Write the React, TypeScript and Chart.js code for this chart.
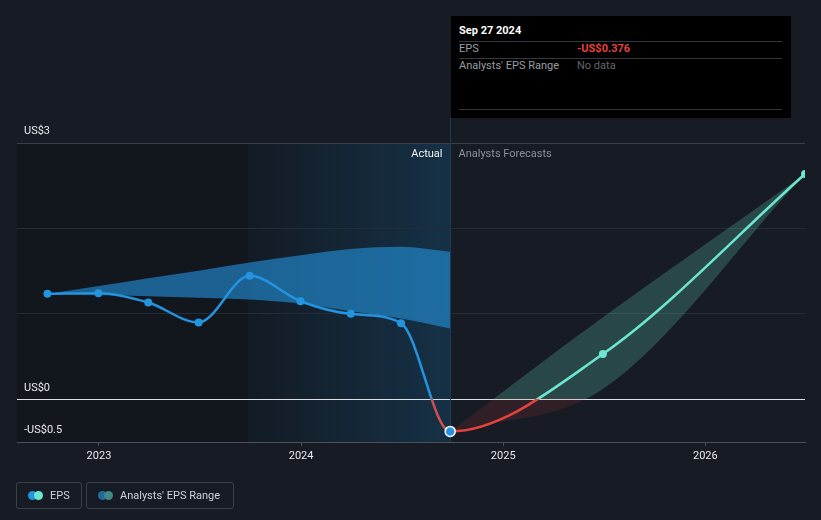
import React, { useEffect, useRef } from 'react';
import { Chart, registerables } from 'chart.js';

Chart.register(...registerables);

// ---------- data ----------
const pastDates = ['2022-09-30', '2022-12-31', '2023-03-31', '2023-06-30', '2023-09-30', '2023-12-31', '2024-03-31', '2024-06-30', '2024-09-27'];
const pastEps = [1.234, 1.242, 1.133, 0.899, 1.445, 1.148, 1.0, 0.891, -0.376];
const pastRangeHigh = [1.234, 1.325, 1.418, 1.506, 1.6, 1.687, 1.76, 1.785, 1.726];
const pastRangeLow = [1.234, 1.222, 1.207, 1.19, 1.168, 1.121, 1.03, 0.946, 0.828];
const forecastDates = ['2025-06-30', '2026-06-30'];
const forecastEps = [0.53, 2.637];
const forecastRangeHigh = [0.96, 2.637];
const forecastRangeLow = [0.12, 2.637];
const xTickYears = [2023, 2024, 2025, 2026];
const yTickValues = [-0.5, 0, 1, 2, 3];
const yTickLabels = ['-US$0.5', 'US$0', '', '', 'US$3'];
const axisStartDate = '2022-08-06';
const axisEndDate = '2026-06-30';
const actualShadeStart = '2023-09-27';

// ---------- style ----------
const FONT = 'Roboto, "Open Sans", sans-serif';
const BG = '#161b24';
const BLUE = '#2394df';
const TEAL = '#6de6d0';
const RED = '#e5423f';
const RED_PAST = '#cf5052';

function toYear(d: string): number {
  const [y, m, day] = d.split('-').map(Number);
  const s = Date.UTC(y, 0, 1);
  const e = Date.UTC(y + 1, 0, 1);
  return y + (Date.UTC(y, m - 1, day) - s) / (e - s);
}

function zeroGradient(chart: any, above: string, below: string): any {
  const { ctx, chartArea, scales } = chart;
  if (!chartArea || !scales || !scales.y) return above;
  const z = scales.y.getPixelForValue(0);
  const f = Math.min(1, Math.max(0, (z - chartArea.top) / (chartArea.bottom - chartArea.top)));
  const g = ctx.createLinearGradient(0, chartArea.top, 0, chartArea.bottom);
  g.addColorStop(0, above);
  g.addColorStop(f, above);
  g.addColorStop(f, below);
  g.addColorStop(1, below);
  return g;
}

const lastActualIdx = pastEps.length - 1;

const decorPlugin = {
  id: 'decor',
  beforeDraw(chart: any) {
    const { ctx, chartArea: a, scales } = chart;
    const x = scales.x;
    const xs = x.getPixelForValue(toYear(actualShadeStart));
    const xe = x.getPixelForValue(toYear(pastDates[lastActualIdx]));
    ctx.save();
    ctx.fillStyle = '#12161d';
    ctx.fillRect(a.left, a.top, xe - a.left, a.bottom - a.top);
    const g = ctx.createLinearGradient(xs, 0, xe, 0);
    g.addColorStop(0, 'rgba(35,148,223,0.04)');
    g.addColorStop(1, 'rgba(35,148,223,0.21)');
    ctx.fillStyle = g;
    ctx.fillRect(xs, a.top, xe - xs, a.bottom - a.top);
    ctx.restore();
  },
  beforeDatasetsDraw(chart: any) {
    const { ctx, chartArea: a, scales } = chart;
    const xe = Math.round(scales.x.getPixelForValue(toYear(pastDates[lastActualIdx]))) + 0.5;
    ctx.save();
    ctx.strokeStyle = '#1d3854';
    ctx.lineWidth = 1;
    ctx.beginPath();
    ctx.moveTo(xe, a.top - 25);
    ctx.lineTo(xe, a.bottom);
    ctx.stroke();
    ctx.font = '11px ' + FONT;
    ctx.textBaseline = 'middle';
    ctx.textAlign = 'right';
    ctx.fillStyle = '#f2f4f6';
    ctx.fillText('Actual', xe - 8, a.top + 11.5);
    ctx.textAlign = 'left';
    ctx.fillStyle = '#8d9197';
    ctx.fillText('Analysts Forecasts', xe + 8, a.top + 11.5);
    ctx.restore();
  },
};

function pts(dates: string[], vals: number[]) {
  return dates.map((d, i) => ({ x: toYear(d), y: vals[i] }));
}

export default function App() {
  const ref = useRef<HTMLCanvasElement | null>(null);

  useEffect(() => {
    if (!ref.current) return;
    const lastDate = pastDates[lastActualIdx];
    const lastVal = pastEps[lastActualIdx];
    const epsData = [...pts(pastDates, pastEps), ...pts(forecastDates, forecastEps)];
    const fHigh = [{ x: toYear(lastDate), y: lastVal }, ...pts(forecastDates, forecastRangeHigh)];
    const fLow = [{ x: toYear(lastDate), y: lastVal }, ...pts(forecastDates, forecastRangeLow)];

    const chart = new Chart(ref.current, {
      type: 'line',
      data: {
        datasets: [
          {
            data: epsData,
            borderWidth: 2.5,
            cubicInterpolationMode: 'monotone',
            borderColor: BLUE,
            fill: false,
            segment: {
              borderColor: (c: any) =>
                c.p0DataIndex < lastActualIdx ? zeroGradient(c.chart, BLUE, RED_PAST) : zeroGradient(c.chart, TEAL, RED),
            },
            pointRadius: (c: any) => (c.dataIndex === lastActualIdx ? 5 : 4),
            pointBackgroundColor: (c: any) => (c.dataIndex <= lastActualIdx ? BLUE : TEAL),
            pointBorderColor: (c: any) => (c.dataIndex === lastActualIdx ? '#ffffff' : c.dataIndex < lastActualIdx ? BLUE : TEAL),
            pointBorderWidth: (c: any) => (c.dataIndex === lastActualIdx ? 1.5 : 0),
          } as any,
          {
            data: pts(pastDates, pastRangeHigh),
            borderWidth: 0,
            borderColor: 'transparent',
            pointRadius: 0,
            cubicInterpolationMode: 'monotone',
            fill: false,
          } as any,
          {
            data: pts(pastDates, pastRangeLow),
            borderWidth: 0,
            borderColor: 'transparent',
            pointRadius: 0,
            cubicInterpolationMode: 'monotone',
            fill: { target: 1 },
            backgroundColor: 'rgba(35,148,223,0.6)',
          } as any,
          {
            data: fHigh,
            borderWidth: 0,
            borderColor: 'transparent',
            pointRadius: 0,
            cubicInterpolationMode: 'monotone',
            fill: false,
          } as any,
          {
            data: fLow,
            borderWidth: 0,
            borderColor: 'transparent',
            pointRadius: 0,
            cubicInterpolationMode: 'monotone',
            fill: { target: 3 },
            backgroundColor: (c: any) => zeroGradient(c.chart, 'rgba(109,230,208,0.22)', 'rgba(229,66,63,0.13)'),
          } as any,
        ],
      },
      options: {
        responsive: false,
        maintainAspectRatio: false,
        animation: false,
        events: [],
        layout: { padding: { left: 17, right: 16, top: 143, bottom: 0 }, autoPadding: false } as any,
        plugins: {
          legend: { display: false },
          tooltip: { enabled: false },
        },
        scales: {
          x: {
            type: 'linear',
            min: toYear(axisStartDate),
            max: toYear(axisEndDate),
            afterBuildTicks: (s: any) => {
              s.ticks = xTickYears.map((v) => ({ value: v }));
            },
            afterFit: (s: any) => {
              s.height = 78;
            },
            grid: { drawOnChartArea: false, drawTicks: true, tickLength: 4, tickColor: '#4b5059' },
            border: { display: true, color: '#4b5059', width: 1 },
            ticks: {
              color: '#e8eaec',
              font: { family: FONT, size: 11 },
              padding: 4,
              maxRotation: 0,
              autoSkip: false,
              callback: (v: any) => String(v),
            },
          },
          y: {
            type: 'linear',
            min: yTickValues[0],
            max: yTickValues[yTickValues.length - 1],
            afterBuildTicks: (s: any) => {
              s.ticks = yTickValues.map((v) => ({ value: v }));
            },
            afterFit: (s: any) => {
              s.width = 0;
            },
            grid: {
              drawTicks: false,
              color: (c: any) => {
                const v = c.tick ? c.tick.value : null;
                if (v === 0) return '#dcdfe3';
                if (v === 3) return '#3a4049';
                if (v === -0.5) return 'rgba(0,0,0,0)';
                return '#262c35';
              },
            },
            border: { display: false },
            ticks: {
              mirror: true,
              padding: 7,
              labelOffset: -11.5,
              color: '#e8eaec',
              font: { family: FONT, size: 11 },
              autoSkip: false,
              callback: (v: any) => {
                const i = yTickValues.indexOf(Number(v));
                return i >= 0 ? yTickLabels[i] : '';
              },
            },
          },
        },
      } as any,
      plugins: [decorPlugin],
    });
    return () => chart.destroy();
  }, []);

  const lineStyle = (top: number): React.CSSProperties => ({
    position: 'absolute',
    left: 8,
    top,
    width: 323,
    height: 1,
    background: '#34373c',
  });
  const legendBox: React.CSSProperties = {
    position: 'absolute',
    top: 482,
    height: 27,
    border: '1px solid #3b4049',
    borderRadius: 3,
    boxSizing: 'border-box',
  };
  const dot = (left: number, color: string): React.CSSProperties => ({
    position: 'absolute',
    left,
    top: 7.5,
    width: 9,
    height: 9,
    borderRadius: '50%',
    background: color,
  });
  const legendText: React.CSSProperties = {
    position: 'absolute',
    top: 5.5,
    fontSize: 11,
    lineHeight: '14px',
    color: '#cfd2d6',
    whiteSpace: 'nowrap',
  };

  return (
    <div
      style={{
        position: 'fixed',
        left: 0,
        top: 0,
        width: 821,
        height: 520,
        background: BG,
        fontFamily: FONT,
        overflow: 'hidden',
      }}
    >
      <canvas ref={ref} width={821} height={520} style={{ position: 'absolute', left: 0, top: 0, width: 821, height: 520 }} />
      <div style={{ position: 'absolute', left: 451, top: 16, width: 340, height: 102, background: '#000' }}>
        <div style={{ position: 'absolute', left: 8, top: 8, fontSize: 11, lineHeight: '14px', fontWeight: 700, color: '#ffffff' }}>
          Sep 27 2024
        </div>
        <div style={lineStyle(25)} />
        <div style={{ position: 'absolute', left: 8, top: 26, fontSize: 11, lineHeight: '14px', color: '#9a9ea4' }}>EPS</div>
        <div style={{ position: 'absolute', left: 126, top: 26, fontSize: 11, lineHeight: '14px', fontWeight: 700, color: '#e5423f' }}>
          -US$0.376
        </div>
        <div style={lineStyle(42)} />
        <div style={{ position: 'absolute', left: 8, top: 43, fontSize: 11, lineHeight: '14px', color: '#9a9ea4' }}>
          Analysts' EPS Range
        </div>
        <div style={{ position: 'absolute', left: 126, top: 43, fontSize: 11, lineHeight: '14px', color: '#62666c' }}>No data</div>
        <div style={lineStyle(93)} />
      </div>
      <div style={{ ...legendBox, left: 16, width: 66 }}>
        <div style={dot(11, BLUE)} />
        <div style={dot(16.5, TEAL)} />
        <div style={{ ...legendText, left: 33 }}>EPS</div>
      </div>
      <div style={{ ...legendBox, left: 86, width: 148 }}>
        <div style={dot(11, '#236a9e')} />
        <div style={dot(16.5, '#3f8a84')} />
        <div style={{ ...legendText, left: 33 }}>Analysts' EPS Range</div>
      </div>
    </div>
  );
}
